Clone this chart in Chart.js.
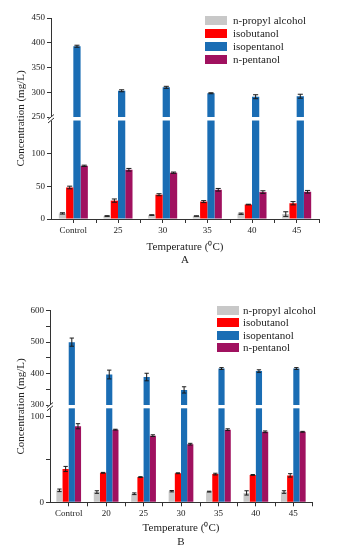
<!DOCTYPE html>
<html><head><meta charset="utf-8">
<script src="https://cdn.jsdelivr.net/npm/chart.js@4"></script>
<style>
html,body{margin:0;padding:0;background:#fff;width:338px;height:550px;overflow:hidden;position:relative;font-family:'Liberation Serif','Times New Roman',serif;}
.wrap{position:absolute;left:0;}
.sw{position:absolute;width:22px;height:9px;}
.lt{position:absolute;white-space:nowrap;line-height:12px;font-size:11px;color:#222;}
</style></head><body>
<div class="wrap" style="top:0;width:338px;height:275px"><canvas id="cA" width="338" height="275"></canvas></div>
<div class="wrap" style="top:280px;width:338px;height:270px"><canvas id="cB" width="338" height="270"></canvas></div>
<script>
// ---- data ----
const seriesNames = ['n-propyl alcohol', 'isobutanol', 'isopentanol', 'n-pentanol'];
const seriesColors = ['#c8c8c8', '#ff0000', '#1a6db4', '#a0115f'];

const catsA = ['Control', '25', '30', '35', '40', '45'];
const propylA = [8.5, 4.5, 6, 4.5, 8, 7.5];
const isobutA = [48, 28, 37, 26.5, 22, 24];
const isopentA = [393, 303, 310, 298, 291, 292];
const pentA = [81, 75, 70.5, 44.5, 41, 41.5];
const propylErrA = [1, 0.5, 0.5, 0.3, 1, 3.5];
const isobutErrA = [2, 2.5, 1.5, 1.5, 0.5, 2.5];
const isopentErrA = [2, 2, 2, 1, 4, 4];
const pentErrA = [1, 2, 1, 2, 2, 2];
const ticksA = [0, 50, 100, 250, 300, 350, 400, 450];
const labelsA = [0, 50, 100, 250, 300, 350, 400, 450];

const catsB = ['Control', '20', '25', '30', '35', '40', '45'];
const propylB = [14, 12, 10, 13, 12.5, 11, 12];
const isobutB = [39, 34.5, 29.5, 34, 33, 32, 31.5];
const isopentB = [500, 397, 389, 348, 416, 408, 416];
const pentB = [89, 85, 78, 68, 85, 82.5, 82.5];
const propylErrB = [1.5, 1.5, 1, 0.8, 0.5, 2.5, 1.5];
const isobutErrB = [3, 0.5, 0.5, 0.5, 1, 0.5, 2];
const isopentErrB = [13, 14, 12, 10, 3, 4, 3];
const pentErrB = [3, 0.5, 1, 1, 1, 1, 0.5];
const ticksB = [0, 50, 100, 300, 350, 400, 450, 500, 550, 600];
const labelsB = [0, 100, 300, 400, 500, 600];

Chart.defaults.font.family = "'Liberation Serif','Times New Roman',serif";
Chart.defaults.color = '#222';

const BRK = {
  cA: {lowMax: 150, highMin: 250, highMax: 450, lowFrac: 0.49, gapFrac: 0.0174, ticks: ticksA,
       errs: [propylErrA, isobutErrA, isopentErrA, pentErrA]},
  cB: {lowMax: 110, highMin: 300, highMax: 600, lowFrac: 0.4906, gapFrac: 0.0172, ticks: ticksB,
       errs: [propylErrB, isobutErrB, isopentErrB, pentErrB]}
};

class BrokenLinear extends Chart.LinearScale {
  buildTicks() { return BRK[this.chart.canvas.id].ticks.map(v => ({value: v})); }
  getPixelForValue(value) {
    const b = BRK[this.chart.canvas.id];
    let d;
    if (value <= b.lowMax) d = value / b.lowMax * b.lowFrac;
    else if (value >= b.highMin) d = b.lowFrac + b.gapFrac + (value - b.highMin) / (b.highMax - b.highMin) * (1 - b.lowFrac - b.gapFrac);
    else d = b.lowFrac + (value - b.lowMax) / (b.highMin - b.lowMax) * b.gapFrac;
    return this.getPixelForDecimal(d);
  }
}
BrokenLinear.id = 'brokenLinear';
BrokenLinear.defaults = {};
Chart.register(BrokenLinear);

const deco = {
  id: 'deco',
  afterDatasetsDraw(chart) {
    const b = BRK[chart.canvas.id];
    const ctx = chart.ctx, y = chart.scales.y, ca = chart.chartArea;
    ctx.save();
    ctx.strokeStyle = '#1a1a1a'; ctx.lineWidth = 1;
    chart.data.datasets.forEach((ds, i) => {
      const meta = chart.getDatasetMeta(i);
      meta.data.forEach((bar, j) => {
        const v = ds.data[j], e = b.errs[i][j];
        const yt = y.getPixelForValue(v + e), yb = y.getPixelForValue(v - e);
        const cw = bar.width * 0.35;
        ctx.beginPath();
        ctx.moveTo(bar.x, yt); ctx.lineTo(bar.x, yb);
        ctx.moveTo(bar.x - cw, yt); ctx.lineTo(bar.x + cw, yt);
        ctx.moveTo(bar.x - cw, yb); ctx.lineTo(bar.x + cw, yb);
        ctx.stroke();
      });
    });
    const gt = y.getPixelForValue(b.highMin), gb = y.getPixelForValue(b.lowMax);
    ctx.fillStyle = '#fff';
    ctx.fillRect(ca.left - 1.5, gt, ca.right - ca.left + 3, gb - gt);
    ctx.strokeStyle = '#333';
    [gt, gb].forEach(yy => { ctx.beginPath(); ctx.moveTo(ca.left - 3, yy + 2.5); ctx.lineTo(ca.left + 3, yy - 2.5); ctx.stroke(); });
    const n = chart.data.labels.length, w = (ca.right - ca.left) / n;
    ctx.beginPath();
    for (let k = 1; k <= n; k++) { const xx = Math.round(ca.left + k * w) + 0.5; ctx.moveTo(xx, ca.bottom); ctx.lineTo(xx, ca.bottom + 4); }
    ctx.stroke();
    ctx.restore();
  }
};

function makeChart(id, cats, vals, letter, labeled, L) {
  const b = BRK[id];
  new Chart(document.getElementById(id), {
    type: 'bar',
    data: {
      labels: cats,
      datasets: vals.map((d, i) => ({label: seriesNames[i], data: d, backgroundColor: seriesColors[i], borderWidth: 0, barPercentage: 1, categoryPercentage: L.cp}))
    },
    options: {
      responsive: false, animation: false, events: [],
      layout: {padding: L.pad},
      plugins: {legend: {display: false}, tooltip: {enabled: false}},
      scales: {
        x: {
          grid: {drawOnChartArea: false, offset: false, tickLength: 4, color: '#333'},
          border: {color: '#333', width: 1},
          ticks: {font: {size: 9}, color: '#222', padding: 2, maxRotation: 0, autoSkip: false},
          title: {display: true, text: ['Temperature (\u2070C)', letter], font: {size: 11, lineHeight: 1.2}, color: '#222', padding: {top: 0, bottom: 0}},
          afterFit(s) { s.height = L.xh; }
        },
        y: {
          type: 'brokenLinear', min: 0, max: b.highMax,
          grid: {drawOnChartArea: false, tickLength: 4, color: '#333'},
          border: {color: '#333', width: 1},
          ticks: {font: {size: 9}, color: '#222', padding: 2, autoSkip: false, callback: (v) => labeled.includes(v) ? String(v) : ''},
          title: {display: true, text: 'Concentration (mg/L)', font: {size: 11}, color: '#222', padding: {top: L.ytp, bottom: 0}},
          afterFit(s) { s.width = L.yw; }
        }
      }
    },
    plugins: [deco]
  });
}

makeChart('cA', catsA, [propylA, isobutA, isopentA, pentA], 'A', labelsA,
  {pad: {top: 18, right: 19, bottom: 8.4, left: 0}, xh: 47.6, yw: 51, ytp: 15, cp: 0.65});
makeChart('cB', catsB, [propylB, isobutB, isopentB, pentB], 'B', labelsB,
  {pad: {top: 30.7, right: 26, bottom: 1.7, left: 0}, xh: 46, yw: 50, ytp: 14.5, cp: 0.66});

function legend(left, c0, step, textLeft) {
  seriesNames.forEach((n, k) => {
    const sw = document.createElement('div'); sw.className = 'sw';
    sw.style.left = left + 'px'; sw.style.top = (c0 + k * step - 4.5) + 'px'; sw.style.background = seriesColors[k];
    document.body.appendChild(sw);
    const t = document.createElement('div'); t.className = 'lt'; t.textContent = n;
    t.style.left = textLeft + 'px'; t.style.top = (c0 + k * step - 6.5) + 'px';
    document.body.appendChild(t);
  });
}
legend(205, 20.7, 12.9, 233);
legend(217, 310.5, 12.3, 243);
</script>
</body></html>
